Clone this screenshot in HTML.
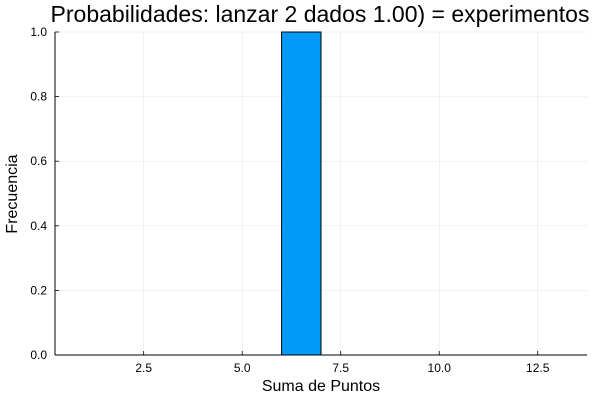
<!DOCTYPE html>
<html><head><meta charset="utf-8"><style>
body{margin:0;background:#fff;}
svg text{font-family:"Liberation Sans","DejaVu Sans",sans-serif;}
</style></head><body>
<svg id="c" width="600" height="400" xmlns="http://www.w3.org/2000/svg">
<rect width="600" height="400" fill="#fff"/>
<text x="320" y="22" font-size="23" text-anchor="middle" fill="#000">Probabilidades: lanzar 2 dados 1.00) = experimentos</text>
<text x="321" y="391" font-size="16" text-anchor="middle">Suma de Puntos</text>
<text x="17" y="194" font-size="16" text-anchor="middle" transform="rotate(-90 17 194)">Frecuencia</text>
<g id="grid"></g><g id="bars"></g><g id="axes"></g>
</svg>
<script>
const binStarts=[6];
const binEnds=[7];
const freqs=[1.0];
const xTicks=[2.5,5.0,7.5,10.0,12.5];
const xTickLabels=["2.5","5.0","7.5","10.0","12.5"];
const yTicks=[0,0.2,0.4,0.6,0.8,1.0];
const yTickLabels=["0.0","0.2","0.4","0.6","0.8","1.0"];
const L=55,R=587,T=32,B=355,xmin=0.25,xmax=13.75,ymin=0,ymax=1;
const sx=v=>L+(v-xmin)/(xmax-xmin)*(R-L);
const sy=v=>B-(v-ymin)/(ymax-ymin)*(B-T);
const NS="http://www.w3.org/2000/svg";
function mk(tag,attrs,parent){const e=document.createElementNS(NS,tag);for(const k in attrs)e.setAttribute(k,attrs[k]);parent.appendChild(e);return e;}
const g=document.getElementById('grid'),b=document.getElementById('bars'),a=document.getElementById('axes');
xTicks.forEach((t,i)=>{
 const l=mk('line',{x1:sx(t),x2:sx(t),y1:T,y2:B,stroke:'#000','stroke-opacity':0.1,'stroke-width':0.5},g);
 
 
 const tk=mk('line',{x1:sx(t),x2:sx(t),y1:B,y2:B-4,stroke:'#000','stroke-width':0.8},a);
 
 
 const tx=mk('text',{x:sx(t),y:B+17,'font-size':12,'text-anchor':'middle'},a);tx.textContent=xTickLabels[i];
 
 
});
yTicks.forEach((t,i)=>{
 const l=mk('line',{x1:L,x2:R,y1:sy(t),y2:sy(t),stroke:'#000','stroke-opacity':0.1,'stroke-width':0.5},g);
 
 
 const tk=mk('line',{x1:L,x2:L+4,y1:sy(t),y2:sy(t),stroke:'#000','stroke-width':0.8},a);
 
 
 const tx=mk('text',{x:L-8,y:sy(t)+4,'font-size':12,'text-anchor':'end'},a);tx.textContent=yTickLabels[i];
 
 
});
freqs.forEach((f,i)=>{
 const r=mk('rect',{x:sx(binStarts[i]),y:sy(f),width:sx(binEnds[i])-sx(binStarts[i]),height:sy(0)-sy(f),fill:'#009af9',stroke:'#000','stroke-width':1},b);
 
 
});
const xa=mk('line',{x1:L,x2:R,y1:B,y2:B,stroke:'#000','stroke-width':1},a);


const ya=mk('line',{x1:L,x2:L,y1:T,y2:B,stroke:'#000','stroke-width':1},a);


</script>
</body></html>
